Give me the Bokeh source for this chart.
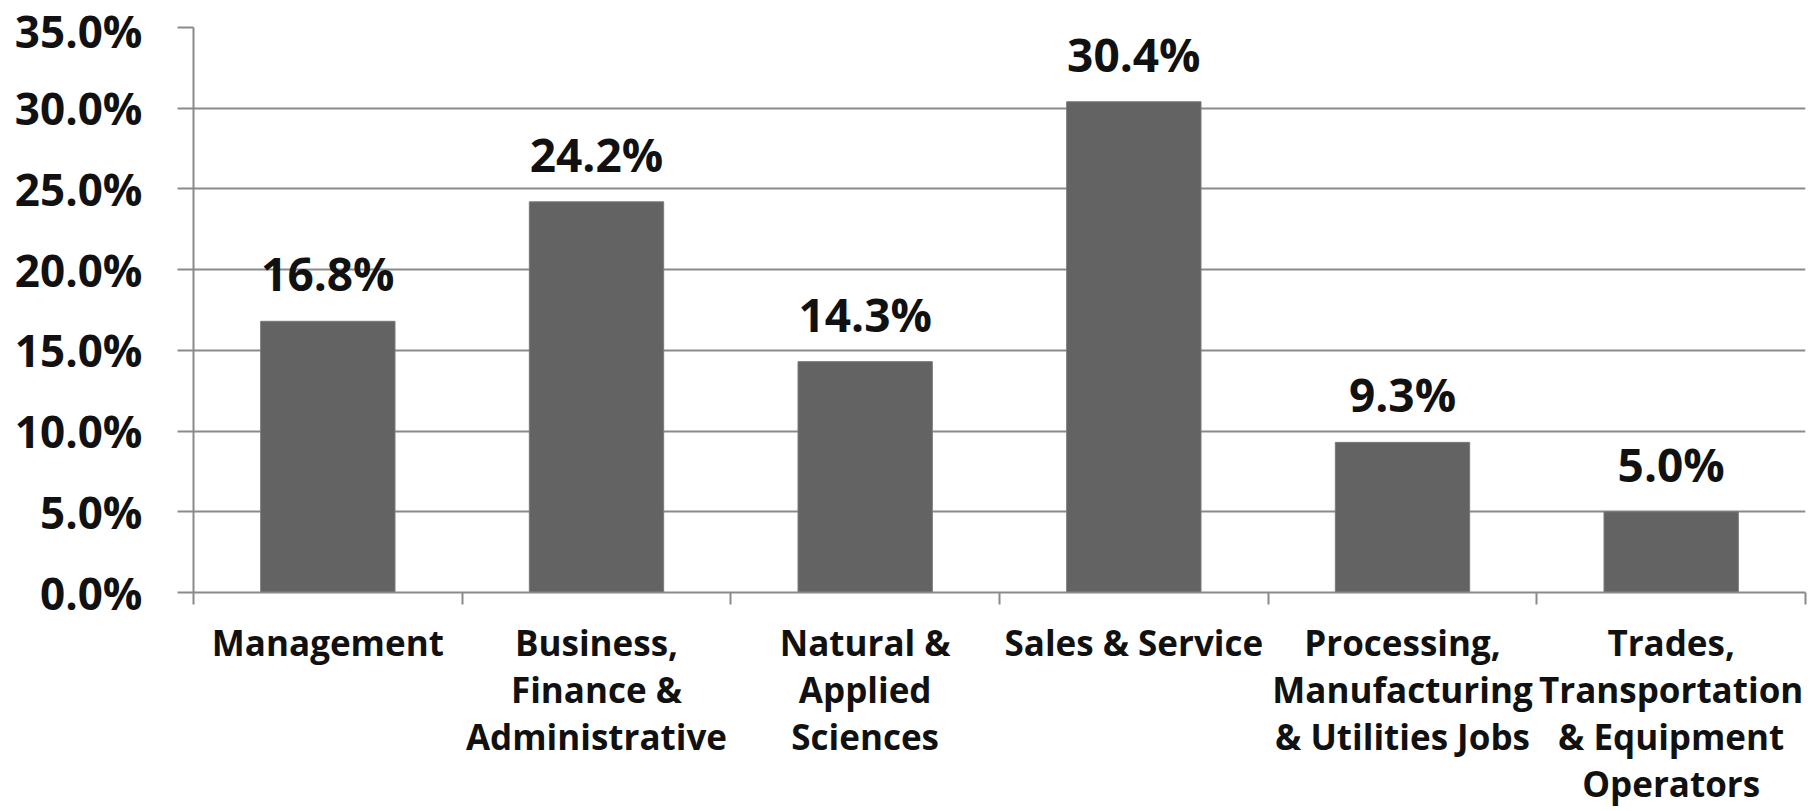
from bokeh.plotting import figure
from bokeh.models import (Range1d, LinearAxis, FixedTicker, PrintfTickFormatter,
                          ColumnDataSource)
from bokeh.embed import file_html
from bokeh.resources import INLINE
from bokeh.core.properties import value

categories = [
    "Management",
    "Business,\nFinance &\nAdministrative",
    "Natural &\nApplied\nSciences",
    "Sales & Service",
    "Processing,\nManufacturing\n& Utilities Jobs",
    "Trades,\nTransportation\n& Equipment\nOperators",
]
shares = [16.8, 24.2, 14.3, 30.4, 9.3, 5.0]
y_ticks = [0, 5, 10, 15, 20, 25, 30, 35]
value_labels = [f"{v:.1f}%" for v in shares]

FONT = "Open Sans"
GRID = "#8a8a8a"
BAR = "#636363"

n = len(categories)
centers = [i + 0.5 for i in range(n)]
bounds = list(range(n + 1))

src = ColumnDataSource(dict(x=centers, share=shares, label=value_labels))

p = figure(width=1816, height=810,
           x_range=Range1d(0, n),
           y_range=Range1d(0, 35),
           x_axis_location=None,
           output_backend="svg", toolbar_location=None,
           min_border_left=193, min_border_right=11,
           min_border_top=27, min_border_bottom=218)
p.outline_line_color = None
p.background_fill_color = "white"
p.border_fill_color = "white"

p.vbar(x="x", top="share", width=0.5, source=src,
       fill_color=BAR, line_color="#7a7a7a", line_width=1)

p.text(x="x", y="share", text="label", source=src,
       text_font=value(FONT), text_font_style="bold",
       text_font_size="46px", text_color="#111111",
       text_align="center", text_baseline="alphabetic", y_offset=-48)

# grid
p.xgrid.grid_line_color = None
p.ygrid.ticker = FixedTicker(ticks=y_ticks)
p.ygrid.grid_line_color = GRID
p.ygrid.grid_line_width = 2

# y axis
ya = p.yaxis[0]
ya.ticker = FixedTicker(ticks=y_ticks)
ya.formatter = PrintfTickFormatter(format="%.1f%%")
ya.major_tick_out = 16
ya.major_tick_in = 0
ya.major_tick_line_color = GRID
ya.major_tick_line_width = 2
ya.minor_tick_line_color = None
ya.axis_line_color = GRID
ya.axis_line_width = 2
ya.major_label_standoff = 35
ya.major_label_text_font = FONT
ya.major_label_text_font_style = "bold"
ya.major_label_text_font_size = "44px"
ya.major_label_text_color = "#111111"

# boundary-tick axis
ba = LinearAxis(ticker=FixedTicker(ticks=bounds))
ba.major_label_text_font_size = "0px"
ba.major_label_text_color = None
ba.major_label_standoff = 0
ba.major_tick_out = 12
ba.major_tick_in = 0
ba.major_tick_line_color = GRID
ba.major_tick_line_width = 2
ba.minor_tick_line_color = None
ba.axis_line_color = GRID
ba.axis_line_width = 2
p.add_layout(ba, "below")

# category label axis
ca = LinearAxis(ticker=FixedTicker(ticks=centers))
ca.major_label_overrides = {c: lab for c, lab in zip(centers, categories)}
ca.axis_line_color = None
ca.major_tick_line_color = None
ca.minor_tick_line_color = None
ca.major_tick_out = 0
ca.major_tick_in = 0
ca.major_label_standoff = 14
ca.major_label_text_font = FONT
ca.major_label_text_font_style = "bold"
ca.major_label_text_font_size = "35px"
ca.major_label_text_color = "#111111"
ca.major_label_text_line_height = 1.0
p.add_layout(ca, "below")

open("out.html", "w").write(file_html(p, INLINE))
